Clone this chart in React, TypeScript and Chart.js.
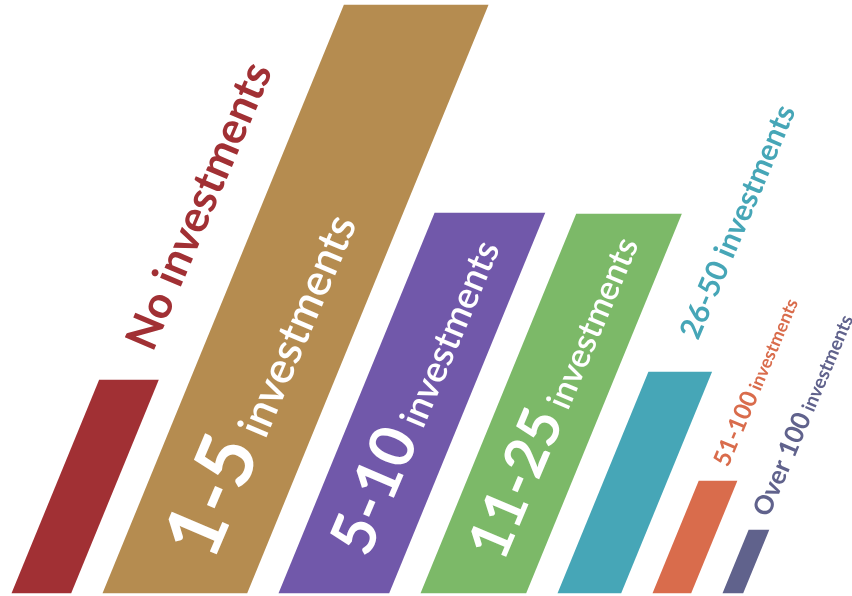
import React, { useEffect, useRef } from "react";
import { Chart, registerables } from "chart.js";

Chart.register(...registerables);

// ---- data ----
const categories = ["No investments", "1-5", "5-10", "11-25", "26-50", "51-100", "Over 100"];
const values = [21.3, 58.8, 38.0, 37.9, 22.1, 11.2, 6.3];
const widths = [5.9, 14.4, 11.0, 10.5, 6.3, 3.8, 2.0];
const labelMain = ["No investments", "1-5", "5-10", "11-25", "26-50 investments", "51-100", "Over 100"];
const labelSub = ["", "investments", "investments", "investments", "", "investments", "investments"];

// ---- styles ----
const colors = ["#a13034", "#b58c50", "#7158aa", "#7cb968", "#46a6b7", "#d96c4c", "#60628c"];
const GAP = 3.2;
const OFFSET = 1.2;
const SKEW = 0.41;
const TEXT_ANGLE = -67;
const FONT = "Lato, 'Open Sans', sans-serif";

type LabelStyle = {
  anchor: "top" | "bottom";
  dx: number;
  dy: number;
  color: string;
  mainSize: number;
  mainWeight: string;
  subSize: number;
  subWeight: string;
};

const labelStyles: LabelStyle[] = [
  { anchor: "top", dx: 24, dy: -27, color: colors[0], mainSize: 44, mainWeight: "bold", subSize: 0, subWeight: "bold" },
  { anchor: "bottom", dx: 38, dy: -30, color: "#ffffff", mainSize: 80, mainWeight: "bold", subSize: 44, subWeight: "600" },
  { anchor: "bottom", dx: 34, dy: -34, color: "#ffffff", mainSize: 62, mainWeight: "bold", subSize: 37, subWeight: "600" },
  { anchor: "bottom", dx: 30, dy: -30, color: "#ffffff", mainSize: 58, mainWeight: "bold", subSize: 34, subWeight: "600" },
  { anchor: "top", dx: 18, dy: -31, color: colors[4], mainSize: 30, mainWeight: "bold", subSize: 0, subWeight: "bold" },
  { anchor: "top", dx: 10, dy: -13, color: colors[5], mainSize: 24, mainWeight: "bold", subSize: 18, subWeight: "bold" },
  { anchor: "top", dx: 10, dy: -12, color: colors[6], mainSize: 26, mainWeight: "bold", subSize: 19, subWeight: "bold" },
];

// bar start positions derived from widths
const starts: number[] = [];
widths.reduce((acc, w) => {
  starts.push(acc);
  return acc + w + GAP;
}, OFFSET);

const skewPlugin = {
  id: "skewBars",
  beforeDatasetsDraw(chart: any) {
    const xs = chart.scales.x;
    const meta = chart.getDatasetMeta(0);
    meta.data.forEach((el: any, i: number) => {
      const l = xs.getPixelForValue(starts[i]);
      const r = xs.getPixelForValue(starts[i] + widths[i]);
      el.x = (l + r) / 2;
      el.width = r - l;
    });
    const y0 = chart.scales.y.getPixelForValue(0);
    const ctx = chart.ctx;
    ctx.save();
    ctx.transform(1, 0, -SKEW, 1, SKEW * y0, 0);
  },
  afterDatasetsDraw(chart: any) {
    const ctx = chart.ctx;
    ctx.restore();
    const meta = chart.getDatasetMeta(0);
    meta.data.forEach((el: any, i: number) => {
      const st = labelStyles[i];
      let ox: number, oy: number;
      if (st.anchor === "top") {
        ox = el.x + SKEW * (el.base - el.y);
        oy = el.y;
      } else {
        ox = el.x;
        oy = el.base;
      }
      ox += st.dx;
      oy += st.dy;
      ctx.save();
      ctx.translate(ox, oy);
      ctx.rotate((TEXT_ANGLE * Math.PI) / 180);
      ctx.fillStyle = st.color;
      ctx.textAlign = "left";
      ctx.textBaseline = "alphabetic";
      ctx.font = `${st.mainWeight} ${st.mainSize}px ${FONT}`;
      ctx.fillText(labelMain[i], 0, 0);
      let cursor = ctx.measureText(labelMain[i]).width;
      if (labelSub[i]) {
        ctx.font = `${st.subWeight} ${st.subSize}px ${FONT}`;
        cursor += ctx.measureText(" ").width;
        ctx.fillText(labelSub[i], cursor, 0);
      }
      ctx.restore();
    });
  },
};

export default function App() {
  const ref = useRef<HTMLCanvasElement>(null);
  useEffect(() => {
    document.body.style.margin = "0";
    const chart = new Chart(ref.current!, {
      type: "bar",
      data: {
        labels: categories,
        datasets: [
          {
            data: values.map((v, i) => ({ x: starts[i] + widths[i] / 2, y: v })) as any,
            backgroundColor: colors,
            borderWidth: 0,
            barPercentage: 1,
            categoryPercentage: 1,
            clip: false as any,
          },
        ],
      },
      options: {
        responsive: false,
        animation: false,
        layout: { padding: { top: 0, bottom: 3, left: 0, right: 0 } },
        plugins: { legend: { display: false }, tooltip: { enabled: false } },
        events: [],
        scales: {
          x: { type: "linear", min: 0, max: 85.2, offset: false, display: false },
          y: { min: 0, max: 59.3, display: false },
        },
      },
      plugins: [skewPlugin],
    });
    return () => chart.destroy();
  }, []);
  return (
    <div style={{ width: 852, height: 596, background: "#ffffff" }}>
      <canvas ref={ref} width={852} height={596} style={{ display: "block" }} />
    </div>
  );
}
